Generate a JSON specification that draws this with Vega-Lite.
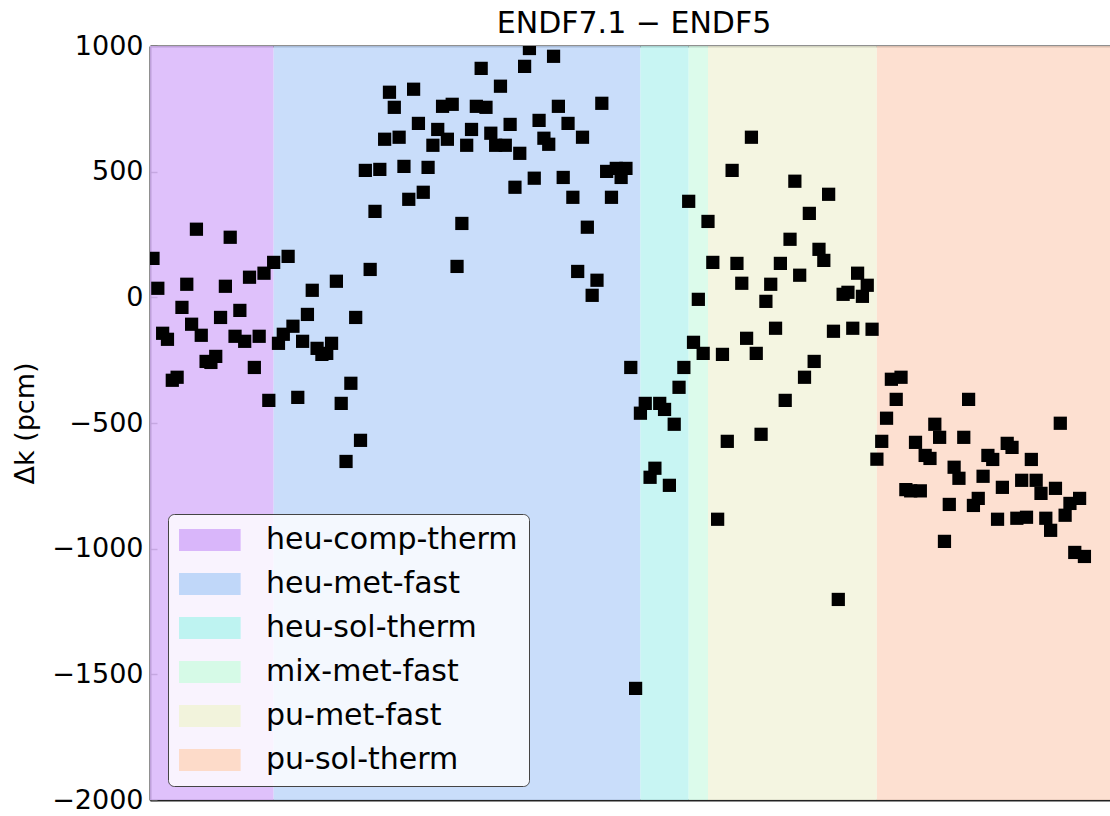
{
  "$schema": "https://vega.github.io/schema/vega-lite/v6.json",
  "width": 960,
  "height": 754,
  "autosize": {"type": "none"},
  "padding": {"left": 150, "top": 46, "right": 0, "bottom": 16},
  "background": "white",
  "config": {"view": {"stroke": null}, "font": "DejaVu Sans"},
  "title": {"text": "ENDF7.1 − ENDF5", "fontSize": 30, "font": "DejaVu Sans", "fontWeight": "normal", "color": "black", "anchor": "middle", "baseline": "alphabetic", "offset": -1, "dx": 4, "dy": 30},
  "datasets": {
    "regions": [
      {"series": "heu-comp-therm", "start": -1, "end": 25},
      {"series": "heu-met-fast", "start": 25, "end": 101},
      {"series": "heu-sol-therm", "start": 101, "end": 111},
      {"series": "mix-met-fast", "start": 111, "end": 115},
      {"series": "pu-met-fast", "start": 115, "end": 150},
      {"series": "pu-sol-therm", "start": 150, "end": 210}
    ],
    "cases": [
      {"case":0,"dk":155},{"case":1,"dk":36},{"case":2,"dk":-143},{"case":3,"dk":-167},{"case":4,"dk":-330},{"case":5,"dk":-318},{"case":6,"dk":-40},{"case":7,"dk":52},{"case":8,"dk":-107},{"case":9,"dk":271},{"case":10,"dk":-151},{"case":11,"dk":-255},{"case":12,"dk":-259},{"case":13,"dk":-235},{"case":14,"dk":-80},{"case":15,"dk":44},{"case":16,"dk":239},{"case":17,"dk":-155},{"case":18,"dk":-52},{"case":19,"dk":-175},{"case":20,"dk":80},{"case":21,"dk":-279},{"case":22,"dk":-155},{"case":23,"dk":96},{"case":24,"dk":-410},{"case":25,"dk":139},
      {"case":26,"dk":-183},{"case":27,"dk":-147},{"case":28,"dk":163},{"case":29,"dk":-115},{"case":30,"dk":-398},{"case":31,"dk":-175},{"case":32,"dk":-68},{"case":33,"dk":28},{"case":34,"dk":-203},{"case":35,"dk":-227},{"case":36,"dk":-223},{"case":37,"dk":-183},{"case":38,"dk":64},{"case":39,"dk":-422},{"case":40,"dk":-653},{"case":41,"dk":-342},{"case":42,"dk":-80},{"case":43,"dk":-569},{"case":44,"dk":505},{"case":45,"dk":111},{"case":46,"dk":342},{"case":47,"dk":509},{"case":48,"dk":629},{"case":49,"dk":816},{"case":50,"dk":756},{"case":51,"dk":637},{"case":52,"dk":521},{"case":53,"dk":390},{"case":54,"dk":828},{"case":55,"dk":692},{"case":56,"dk":418},{"case":57,"dk":517},{"case":58,"dk":605},{"case":59,"dk":668},{"case":60,"dk":760},{"case":61,"dk":629},{"case":62,"dk":768},{"case":63,"dk":123},{"case":64,"dk":294},{"case":65,"dk":605},{"case":66,"dk":668},{"case":67,"dk":760},{"case":68,"dk":911},{"case":69,"dk":756},{"case":70,"dk":653},{"case":71,"dk":605},{"case":72,"dk":840},{"case":73,"dk":605},{"case":74,"dk":688},{"case":75,"dk":438},{"case":76,"dk":573},{"case":77,"dk":919},{"case":78,"dk":990},{"case":79,"dk":474},{"case":80,"dk":704},{"case":81,"dk":633},{"case":82,"dk":609},{"case":83,"dk":959},{"case":84,"dk":760},{"case":85,"dk":477},{"case":86,"dk":692},{"case":87,"dk":398},{"case":88,"dk":103},{"case":89,"dk":637},{"case":90,"dk":279},{"case":91,"dk":8},{"case":92,"dk":68},{"case":93,"dk":772},{"case":94,"dk":501},{"case":95,"dk":398},{"case":96,"dk":513},{"case":97,"dk":477},{"case":98,"dk":513},{"case":99,"dk":-279},{"case":100,"dk":-1556},{"case":101,"dk":-461},
      {"case":102,"dk":-422},{"case":103,"dk":-716},{"case":104,"dk":-680},{"case":105,"dk":-422},{"case":106,"dk":-446},{"case":107,"dk":-748},{"case":108,"dk":-505},{"case":109,"dk":-358},{"case":110,"dk":-279},{"case":111,"dk":382},{"case":112,"dk":-179},{"case":113,"dk":-8},{"case":114,"dk":-223},{"case":115,"dk":302},
      {"case":116,"dk":139},{"case":117,"dk":-883},{"case":118,"dk":-227},{"case":119,"dk":-573},{"case":120,"dk":505},{"case":121,"dk":135},{"case":122,"dk":56},{"case":123,"dk":-163},{"case":124,"dk":637},{"case":125,"dk":-223},{"case":126,"dk":-545},{"case":127,"dk":-16},{"case":128,"dk":52},{"case":129,"dk":-123},{"case":130,"dk":135},{"case":131,"dk":-410},{"case":132,"dk":231},{"case":133,"dk":462},{"case":134,"dk":88},{"case":135,"dk":-318},{"case":136,"dk":334},{"case":137,"dk":-255},{"case":138,"dk":191},{"case":139,"dk":147},{"case":140,"dk":410},{"case":141,"dk":-135},{"case":142,"dk":-1202},{"case":143,"dk":12},{"case":144,"dk":20},{"case":145,"dk":-123},{"case":146,"dk":96},{"case":147,"dk":4},{"case":148,"dk":48},{"case":149,"dk":-127},
      {"case":150,"dk":-644},{"case":151,"dk":-573},{"case":152,"dk":-481},{"case":153,"dk":-326},{"case":154,"dk":-406},{"case":155,"dk":-318},{"case":156,"dk":-765},{"case":157,"dk":-770},{"case":158,"dk":-577},{"case":159,"dk":-770},{"case":160,"dk":-629},{"case":161,"dk":-641},{"case":162,"dk":-505},{"case":163,"dk":-557},{"case":164,"dk":-971},{"case":165,"dk":-824},{"case":166,"dk":-676},{"case":167,"dk":-720},{"case":168,"dk":-557},{"case":169,"dk":-406},{"case":170,"dk":-828},{"case":171,"dk":-800},{"case":172,"dk":-712},{"case":173,"dk":-629},{"case":174,"dk":-645},{"case":175,"dk":-883},{"case":176,"dk":-756},{"case":177,"dk":-581},{"case":178,"dk":-597},{"case":179,"dk":-879},{"case":180,"dk":-728},{"case":181,"dk":-875},{"case":182,"dk":-645},{"case":183,"dk":-728},{"case":184,"dk":-780},{"case":185,"dk":-879},{"case":186,"dk":-927},{"case":187,"dk":-760},{"case":188,"dk":-501},{"case":189,"dk":-867},{"case":190,"dk":-820},{"case":191,"dk":-1015},{"case":192,"dk":-800},{"case":193,"dk":-1031}
    ]
  },
  "layer": [
    {
      "data": {"name": "regions"},
      "mark": {"type": "rect", "clip": true, "opacity": 0.85},
      "encoding": {
        "x": {"field": "start", "type": "quantitative", "scale": {"domain": [-0.62, 198.3], "nice": false, "zero": false},
              "axis": {"orient": "top", "labels": false, "ticks": false, "grid": false, "title": null, "domainColor": "#222", "domainWidth": 2}},
        "x2": {"field": "end"},
        "color": {"field": "series", "type": "nominal",
          "scale": {"domain": ["heu-comp-therm", "heu-met-fast", "heu-sol-therm", "mix-met-fast", "pu-met-fast", "pu-sol-therm"],
                    "range": ["#d9b6fa", "#c0d7f9", "#bef3f1", "#d6fae7", "#f2f3dc", "#fddbc9"]},
          "legend": {"title": null, "orient": "none", "legendX": 18, "legendY": 468,
                     "symbolType": "M-1.36,-1H4.24V1H-1.36Z", "symbolSize": 484, "symbolOpacity": 1, "symbolStrokeWidth": 0,
                     "labelFontSize": 30, "labelFont": "DejaVu Sans", "labelColor": "black", "labelOffset": 57, "labelLimit": 0,
                     "rowPadding": 14, "padding": 11, "fillColor": "rgba(255,255,255,0.8)", "strokeColor": "#444", "cornerRadius": 6}}
      }
    },
    {
      "data": {"name": "cases"},
      "mark": {"type": "square", "color": "black", "size": 175, "opacity": 1, "clip": true},
      "encoding": {
        "x": {"field": "case", "type": "quantitative", "scale": {"domain": [-0.62, 198.3], "nice": false, "zero": false},
              "axis": {"orient": "bottom", "labels": false, "ticks": false, "grid": false, "title": null, "domainColor": "#222", "domainWidth": 2}},
        "y": {"field": "dk", "type": "quantitative", "scale": {"domain": [-2000, 1000], "nice": false, "zero": false},
              "axis": {"title": "Δk (pcm)", "titleFontSize": 27, "titleFont": "DejaVu Sans", "titleFontWeight": "normal", "titleColor": "black", "titlePadding": 12,
                       "values": [-2000, -1500, -1000, -500, 0, 500, 1000], "format": "d",
                       "labelFontSize": 27, "labelFont": "DejaVu Sans", "labelColor": "black", "labelPadding": 14,
                       "tickSize": -7, "tickColor": "#555", "tickWidth": 1.5, "grid": false, "domainColor": "#222", "domainWidth": 2}}
      }
    }
  ],
  "resolve": {"axis": {"x": "independent"}}
}
